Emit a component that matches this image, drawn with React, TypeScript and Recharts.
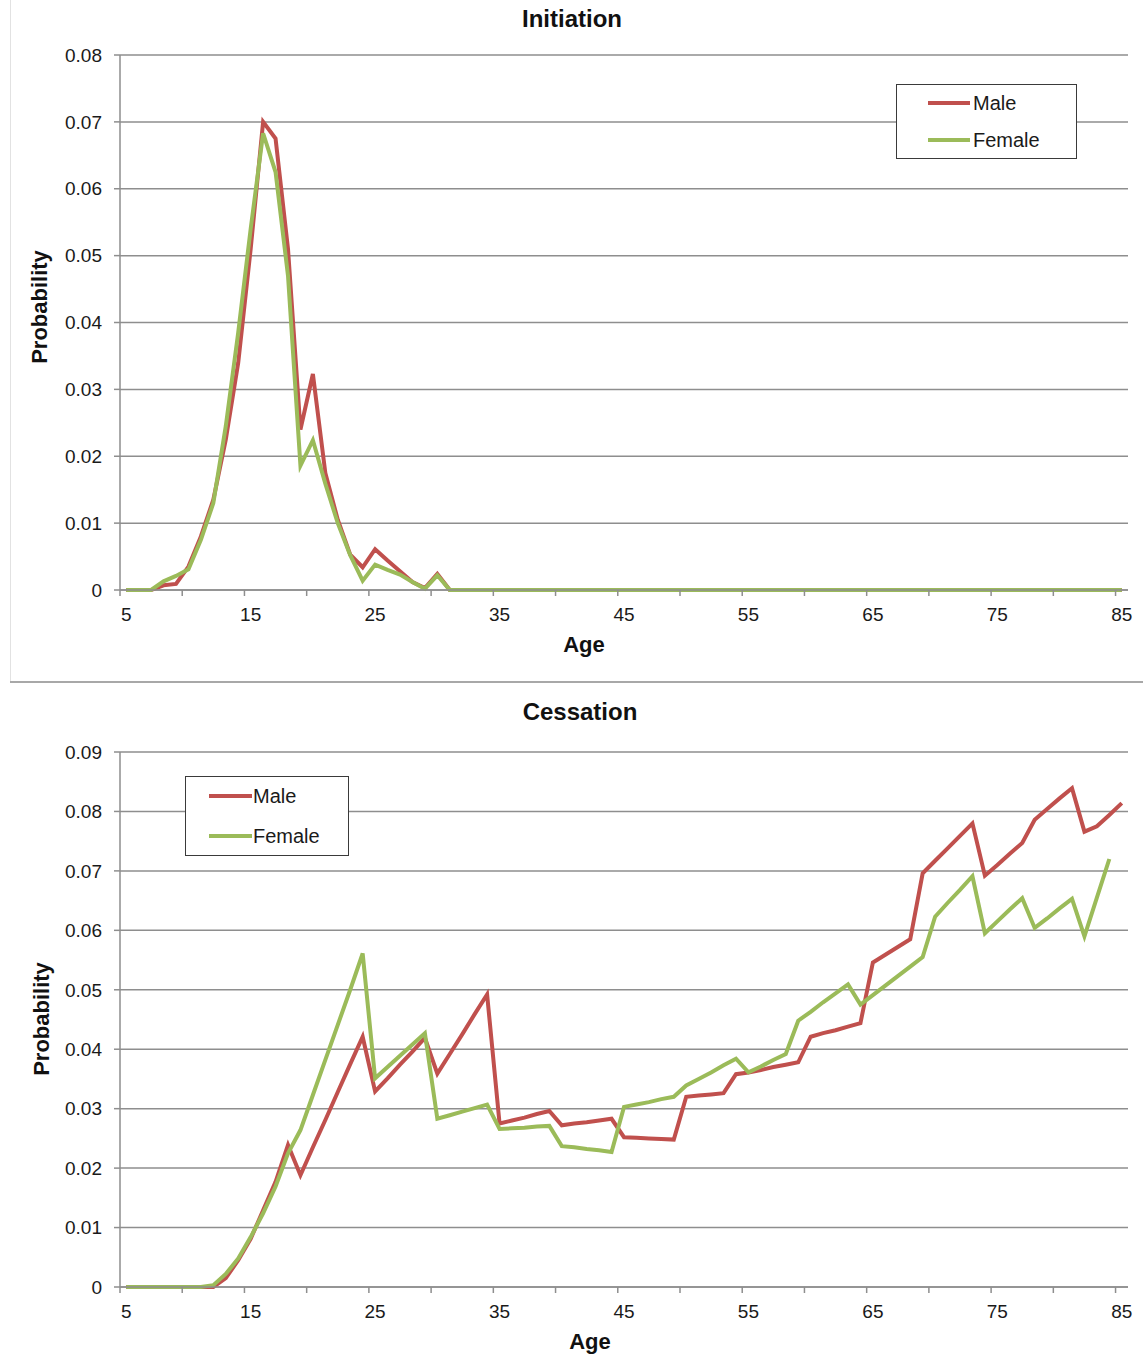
import React from 'react';
import { LineChart, Line, XAxis, YAxis, CartesianGrid, Legend } from 'recharts';

const ages = [
  5, 6, 7, 8, 9, 10, 11, 12, 13, 14, 15, 16, 17, 18, 19, 20, 21, 22, 23, 24, 25,
  26, 27, 28, 29, 30, 31, 32, 33, 34, 35, 36, 37, 38, 39, 40, 41, 42, 43, 44, 45,
  46, 47, 48, 49, 50, 51, 52, 53, 54, 55, 56, 57, 58, 59, 60, 61, 62, 63, 64, 65,
  66, 67, 68, 69, 70, 71, 72, 73, 74, 75, 76, 77, 78, 79, 80, 81, 82, 83, 84, 85,
];

const initiationMale = [
  0, 0, 0, 0.0007, 0.0009, 0.0035, 0.008, 0.0135, 0.0225, 0.034, 0.051, 0.07, 0.0675, 0.051, 0.024, 0.0323, 0.0175, 0.0105, 0.0053, 0.0034, 0.0061,
  0.0044, 0.0028, 0.0012, 0.0003, 0.0024, 0, 0, 0, 0, 0, 0, 0, 0, 0, 0, 0, 0, 0, 0, 0,
  0, 0, 0, 0, 0, 0, 0, 0, 0, 0, 0, 0, 0, 0, 0, 0, 0, 0, 0, 0,
  0, 0, 0, 0, 0, 0, 0, 0, 0, 0, 0, 0, 0, 0, 0, 0, 0, 0, 0, 0,
];

const initiationFemale = [
  0, 0, 0, 0.0013, 0.0021, 0.0031, 0.0075, 0.013, 0.0245, 0.0385, 0.054, 0.0683, 0.0625, 0.047, 0.0186, 0.0224, 0.0159, 0.01, 0.0052, 0.0014, 0.0038,
  0.003, 0.0023, 0.0012, 0.0002, 0.0022, 0, 0, 0, 0, 0, 0, 0, 0, 0, 0, 0, 0, 0, 0, 0,
  0, 0, 0, 0, 0, 0, 0, 0, 0, 0, 0, 0, 0, 0, 0, 0, 0, 0, 0, 0,
  0, 0, 0, 0, 0, 0, 0, 0, 0, 0, 0, 0, 0, 0, 0, 0, 0, 0, 0, 0,
];

const cessationMale = [
  0, 0, 0, 0, 0, 0, 0, 0, 0.0015, 0.0045, 0.0081, 0.0129, 0.0177, 0.0239, 0.0188, 0.0235, 0.0281, 0.0328, 0.0375, 0.0421, 0.0329,
  0.0351, 0.0374, 0.0396, 0.0419, 0.0359, 0.0392, 0.0425, 0.0459, 0.0492, 0.0275, 0.028, 0.0285, 0.0291, 0.0296, 0.0272, 0.0275, 0.0277, 0.028, 0.0283, 0.0252,
  0.0251, 0.025, 0.0249, 0.0248, 0.032, 0.0322, 0.0324, 0.0326, 0.0358, 0.0361, 0.0365, 0.037, 0.0374, 0.0378, 0.0421, 0.0427, 0.0432, 0.0438, 0.0444, 0.0546,
  0.0559, 0.0572, 0.0585, 0.0696, 0.0717, 0.0738, 0.0759, 0.078, 0.0692, 0.071, 0.0729, 0.0747, 0.0786, 0.0804, 0.0822, 0.0839, 0.0766, 0.0775, 0.0794, 0.0814,
];

const cessationFemale = [
  0, 0, 0, 0, 0, 0, 0, 0.0003, 0.0022, 0.0048, 0.0084, 0.0124, 0.0169, 0.0225, 0.0264, 0.0323, 0.0382, 0.0441, 0.05, 0.0561, 0.0351,
  0.037, 0.0389, 0.0408, 0.0427, 0.0283, 0.0289, 0.0295, 0.0301, 0.0307, 0.0266, 0.0267, 0.0268, 0.027, 0.0271, 0.0237, 0.0235, 0.0232, 0.023, 0.0227, 0.0303,
  0.0307, 0.0311, 0.0316, 0.032, 0.0339, 0.035, 0.0361, 0.0373, 0.0384, 0.0361, 0.0371, 0.0382, 0.0392, 0.0448, 0.0463, 0.0479, 0.0494, 0.0509, 0.0475, 0.0491,
  0.0507, 0.0523, 0.0539, 0.0555, 0.0623, 0.0646, 0.0668, 0.0691, 0.0595, 0.0615, 0.0635, 0.0654, 0.0604, 0.062, 0.0637, 0.0653, 0.059, 0.0655, 0.072, null,
];

const xTickMarks = [4.5, 9.5, 14.5, 19.5, 24.5, 29.5, 34.5, 39.5, 44.5, 49.5, 54.5, 59.5, 64.5, 69.5, 74.5, 79.5, 84.5];
const initiationYTicks = [0, 0.01, 0.02, 0.03, 0.04, 0.05, 0.06, 0.07, 0.08];
const cessationYTicks = [0, 0.01, 0.02, 0.03, 0.04, 0.05, 0.06, 0.07, 0.08, 0.09];

const seriesNames = ['Male', 'Female'];
const MALE_COLOR = '#C0504D';
const FEMALE_COLOR = '#9BBB59';
const GRID = '#8e8e8e';
const FONT = '"Liberation Sans", Arial, sans-serif';

const W = 1143;
const LEFT = 120;
const RIGHT_MARGIN = 15;
const PLOT_W = W - LEFT - RIGHT_MARGIN;
const HALF_CAT = PLOT_W / 81 / 2;

const build = (male: (number | null)[], female: (number | null)[]) =>
  ages.map((age, i) => ({ age, male: male[i], female: female[i] }));

const initiationData = build(initiationMale, initiationFemale);
const cessationData = build(cessationMale, cessationFemale);

const XTick = (props: any) => {
  const { x, y, payload } = props;
  const v = payload.value + 0.5;
  if (Math.abs(((v - 5) % 10)) > 0.001) return <g />;
  return (
    <text x={x + HALF_CAT} y={y} dy={23} textAnchor="middle" fontSize={19} fontFamily={FONT} fill="#1a1a1a">
      {String(Math.round(v))}
    </text>
  );
};

const yFmt = (v: number) => (v === 0 ? '0' : v.toFixed(2));

const makeLegend = (box: { w: number; h: number; lineLeft: number; lineW: number; textLeft: number; rows: number[] }) => () => (
  <div
    style={{
      position: 'relative',
      width: box.w,
      height: box.h,
      boxSizing: 'border-box',
      border: '1.5px solid #3a3a3a',
      background: '#fff',
      fontFamily: FONT,
    }}
  >
    {seriesNames.map((name, i) => (
      <React.Fragment key={name}>
        <div
          style={{
            position: 'absolute',
            left: box.lineLeft,
            top: box.rows[i] - 2,
            width: box.lineW,
            height: 4,
            background: i === 0 ? MALE_COLOR : FEMALE_COLOR,
          }}
        />
        <div
          style={{
            position: 'absolute',
            left: box.textLeft,
            top: box.rows[i] - 12,
            fontSize: 20,
            lineHeight: '24px',
            color: '#1a1a1a',
            whiteSpace: 'nowrap',
          }}
        >
          {name}
        </div>
      </React.Fragment>
    ))}
  </div>
);

const Txt = ({ text, cx, cy, size, bold, rotate }: any) => (
  <div
    style={{
      position: 'absolute',
      left: cx - 200,
      top: cy - size / 2 - 1,
      width: 400,
      textAlign: 'center',
      fontFamily: FONT,
      fontSize: size,
      lineHeight: `${size}px`,
      fontWeight: bold ? 700 : 400,
      color: '#111',
      transform: rotate ? 'rotate(-90deg)' : undefined,
      transformOrigin: '200px 50%',
      whiteSpace: 'nowrap',
    }}
  >
    {text}
  </div>
);

const Panel = ({ data, yTicks, yMax, height, xAxisHeight, legend }: any) => (
  <LineChart
    width={W}
    height={height}
    data={data}
    margin={{ top: 55, right: RIGHT_MARGIN, left: 0, bottom: 0 }}
  >
    <CartesianGrid vertical={false} stroke={GRID} strokeWidth={1.5} />
    <XAxis
      dataKey="age"
      type="number"
      domain={[4.5, 85.5]}
      ticks={xTickMarks}
      interval={0}
      allowDataOverflow
      height={xAxisHeight}
      tickSize={6}
      tickMargin={2}
      axisLine={{ stroke: GRID, strokeWidth: 1.5 }}
      tickLine={{ stroke: GRID, strokeWidth: 1.5 }}
      tick={<XTick />}
    />
    <YAxis
      type="number"
      domain={[0, yMax]}
      ticks={yTicks}
      interval={0}
      width={LEFT}
      tickSize={6}
      tickMargin={12}
      tickFormatter={yFmt}
      axisLine={{ stroke: GRID, strokeWidth: 1.5 }}
      tickLine={{ stroke: GRID, strokeWidth: 1.5 }}
      tick={{ fontSize: 19, fontFamily: FONT, fill: '#1a1a1a' }}
    />
    <Legend
      layout="horizontal"
      verticalAlign="middle"
      align="center"
      content={legend.content}
      wrapperStyle={{ position: 'absolute', left: legend.left, top: legend.top, width: legend.w, height: legend.h }}
    />
    <Line
      type="linear"
      dataKey="male"
      name="Male"
      stroke={MALE_COLOR}
      strokeWidth={4}
      dot={false}
      activeDot={false}
      isAnimationActive={false}
      connectNulls={false}
    />
    <Line
      type="linear"
      dataKey="female"
      name="Female"
      stroke={FEMALE_COLOR}
      strokeWidth={4}
      dot={false}
      activeDot={false}
      isAnimationActive={false}
      connectNulls={false}
    />
  </LineChart>
);

const topLegend = {
  left: 896,
  top: 84,
  w: 181,
  h: 75,
  content: makeLegend({ w: 181, h: 75, lineLeft: 31, lineW: 42, textLeft: 76, rows: [18, 55] }),
};
const bottomLegend = {
  left: 185,
  top: 776 - 697,
  w: 164,
  h: 80,
  content: makeLegend({ w: 164, h: 80, lineLeft: 23, lineW: 43, textLeft: 67, rows: [19, 59] }),
};

export default function App() {
  return (
    <div style={{ position: 'absolute', left: 0, top: 0, width: W, height: 1358, overflow: 'hidden', background: '#fff' }}>
      <div style={{ position: 'absolute', left: 10, top: 0, width: 1, height: 682, background: '#e2e2e2' }} />
      <div style={{ position: 'absolute', left: 0, top: 0 }}>
        <Panel data={initiationData} yTicks={initiationYTicks} yMax={0.08} height={680} xAxisHeight={90} legend={topLegend} />
      </div>
      <div style={{ position: 'absolute', left: 10, top: 681, width: W - 10, height: 2, background: '#a8a8a8' }} />
      <div style={{ position: 'absolute', left: 0, top: 697 }}>
        <Panel data={cessationData} yTicks={cessationYTicks} yMax={0.09} height={661} xAxisHeight={71} legend={bottomLegend} />
      </div>
      <Txt text="Initiation" cx={572} cy={20} size={24} bold />
      <Txt text="Age" cx={584} cy={646} size={22} bold />
      <Txt text="Probability" cx={40} cy={308} size={22} bold rotate />
      <Txt text="Cessation" cx={580} cy={713} size={24} bold />
      <Txt text="Age" cx={590} cy={1343} size={22} bold />
      <Txt text="Probability" cx={42} cy={1020} size={22} bold rotate />
    </div>
  );
}
